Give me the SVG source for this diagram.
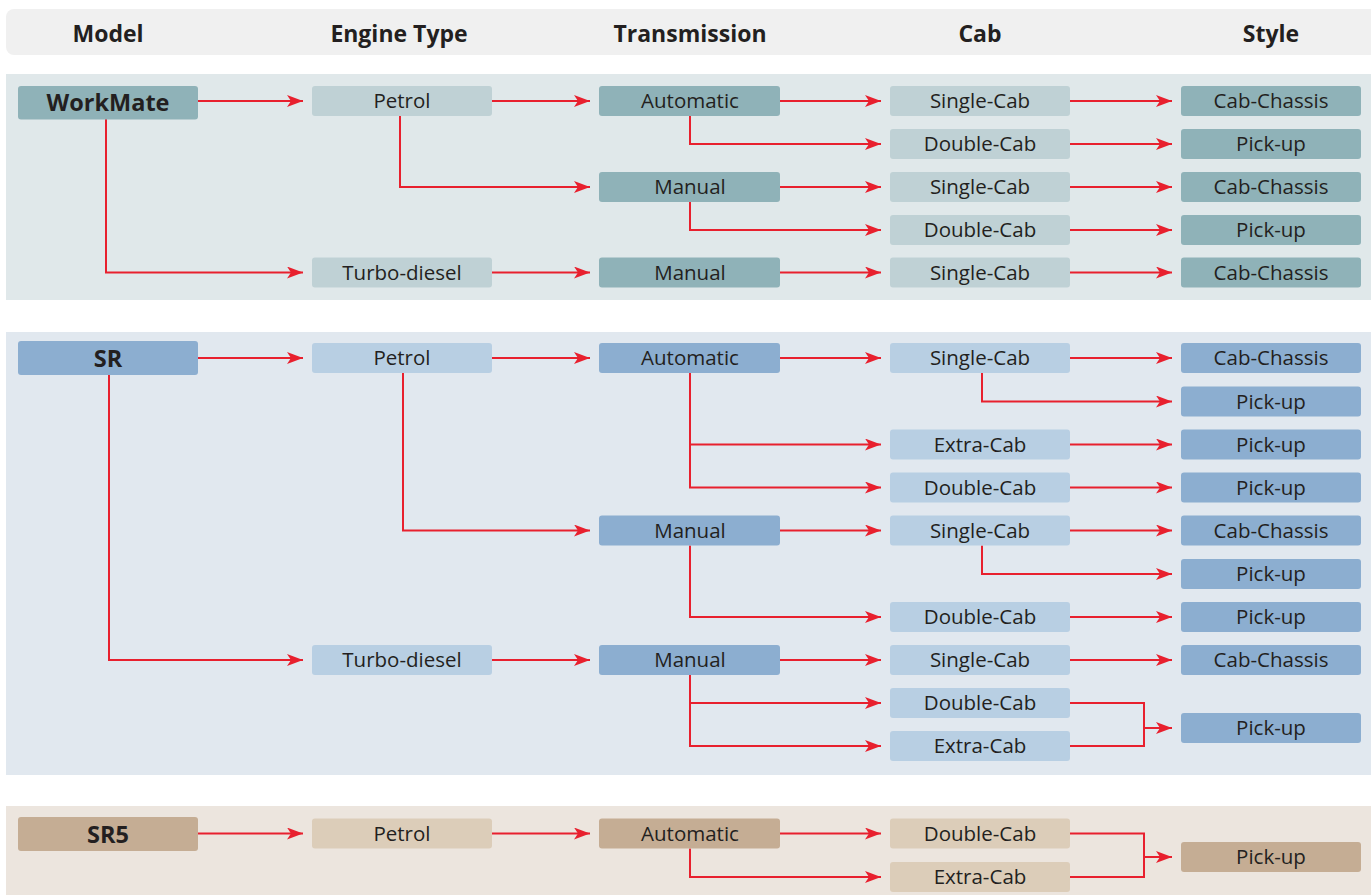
<svg xmlns="http://www.w3.org/2000/svg" width="1371" height="895" viewBox="0 0 1371 895">
<defs>
<marker id="ah" markerUnits="userSpaceOnUse" markerWidth="18" markerHeight="14" refX="16" refY="6" orient="auto">
<path d="M0,0 L16,6 L0,12 L4,6 z" fill="#e8202e"/>
</marker>
<style>
.hd{font-family:"Open Sans","Liberation Sans",sans-serif;font-weight:700;font-size:23px;fill:#231f20;text-anchor:middle}
.t{font-family:"Open Sans","Liberation Sans",sans-serif;font-size:20.5px;fill:#231f20;text-anchor:middle}
.mt{font-family:"Open Sans","Liberation Sans",sans-serif;font-weight:700;font-size:23.5px;fill:#231f20;text-anchor:middle}
.c path{fill:none;stroke:#e8202e;stroke-width:2;marker-end:url(#ah)}
.c path.n{marker-end:none}
.wd{fill:#8fb2b8}.wl{fill:#bfd1d5}
.sd{fill:#8caed0}.sl{fill:#b8cfe3}
.fd{fill:#c5ad94}.fl{fill:#dccdb9}
</style>
</defs>
<rect x="6" y="9" width="1375" height="46" rx="8" fill="#f0f0f0"/>
<g id="header">
<text class="hd" x="108" y="42">Model</text>
<text class="hd" x="399" y="42">Engine Type</text>
<text class="hd" x="690" y="42">Transmission</text>
<text class="hd" x="980" y="42">Cab</text>
<text class="hd" x="1271" y="42">Style</text>
</g>
<rect x="6" y="74" width="1375" height="226" fill="#e0e8ea"/>
<rect x="6" y="332" width="1375" height="443" fill="#e1e8ef"/>
<rect x="6" y="806" width="1375" height="95" fill="#ece5de"/>

<g id="connectors" class="c">
<path d="M198,101 H303"/>
<path d="M492,101 H590"/>
<path d="M780,101 H881"/>
<path d="M1070,101 H1172"/>
<path d="M690,116 V144 H881"/>
<path d="M1070,144 H1172"/>
<path d="M400,116 V187 H590"/>
<path d="M780,187 H881"/>
<path d="M1070,187 H1172"/>
<path d="M690,202 V230 H881"/>
<path d="M1070,230 H1172"/>
<path d="M106,119 V272.5 H303"/>
<path d="M492,272.5 H590"/>
<path d="M780,272.5 H881"/>
<path d="M1070,272.5 H1172"/>
<path d="M198,358 H303"/>
<path d="M492,358 H590"/>
<path d="M780,358 H881"/>
<path d="M1070,358 H1172"/>
<path d="M982,373 V401.5 H1172"/>
<path d="M690,373 V487.5 H881"/>
<path d="M690,444.5 H881"/>
<path d="M1070,444.5 H1172"/>
<path d="M1070,487.5 H1172"/>
<path d="M403,373 V530.5 H590"/>
<path d="M780,530.5 H881"/>
<path d="M1070,530.5 H1172"/>
<path d="M982,545.5 V574 H1172"/>
<path d="M690,545.5 V617 H881"/>
<path d="M1070,617 H1172"/>
<path d="M109,375 V660 H303"/>
<path d="M492,660 H590"/>
<path d="M780,660 H881"/>
<path d="M1070,660 H1172"/>
<path d="M690,675 V746 H881"/>
<path d="M690,703 H881"/>
<path class="n" d="M1070,703 H1144 V746 H1070"/>
<path d="M1144,728 H1172"/>
<path d="M198,833.5 H303"/>
<path d="M492,833.5 H590"/>
<path d="M780,833.5 H881"/>
<path d="M690,848.5 V877 H881"/>
<path class="n" d="M1070,833.5 H1144 V877 H1070"/>
<path d="M1144,857 H1172"/>
</g>

<g id="wm-model"><rect class="wd" x="18" y="86" width="180" height="33.5" rx="3"/><text class="mt" x="108" y="111">WorkMate</text></g>
<g id="wm-petrol"><rect class="wl" x="312" y="86" width="180" height="30" rx="3"/><text class="t" x="402" y="108">Petrol</text></g>
<g id="wm-auto"><rect class="wd" x="599" y="86" width="181" height="30" rx="3"/><text class="t" x="690" y="108">Automatic</text></g>
<g id="wm-c1"><rect class="wl" x="890" y="86" width="180" height="30" rx="3"/><text class="t" x="980" y="108">Single-Cab</text></g>
<g id="wm-s1"><rect class="wd" x="1181" y="86" width="180" height="30" rx="3"/><text class="t" x="1271" y="108">Cab-Chassis</text></g>
<g id="wm-c2"><rect class="wl" x="890" y="129" width="180" height="30" rx="3"/><text class="t" x="980" y="151">Double-Cab</text></g>
<g id="wm-s2"><rect class="wd" x="1181" y="129" width="180" height="30" rx="3"/><text class="t" x="1271" y="151">Pick-up</text></g>
<g id="wm-man1"><rect class="wd" x="599" y="172" width="181" height="30" rx="3"/><text class="t" x="690" y="194">Manual</text></g>
<g id="wm-c3"><rect class="wl" x="890" y="172" width="180" height="30" rx="3"/><text class="t" x="980" y="194">Single-Cab</text></g>
<g id="wm-s3"><rect class="wd" x="1181" y="172" width="180" height="30" rx="3"/><text class="t" x="1271" y="194">Cab-Chassis</text></g>
<g id="wm-c4"><rect class="wl" x="890" y="215" width="180" height="30" rx="3"/><text class="t" x="980" y="237">Double-Cab</text></g>
<g id="wm-s4"><rect class="wd" x="1181" y="215" width="180" height="30" rx="3"/><text class="t" x="1271" y="237">Pick-up</text></g>
<g id="wm-turbo"><rect class="wl" x="312" y="257.5" width="180" height="30" rx="3"/><text class="t" x="402" y="279.5">Turbo-diesel</text></g>
<g id="wm-man2"><rect class="wd" x="599" y="257.5" width="181" height="30" rx="3"/><text class="t" x="690" y="279.5">Manual</text></g>
<g id="wm-c5"><rect class="wl" x="890" y="257.5" width="180" height="30" rx="3"/><text class="t" x="980" y="279.5">Single-Cab</text></g>
<g id="wm-s5"><rect class="wd" x="1181" y="257.5" width="180" height="30" rx="3"/><text class="t" x="1271" y="279.5">Cab-Chassis</text></g>

<g id="sr-model"><rect class="sd" x="18" y="341" width="180" height="34" rx="3"/><text class="mt" x="108" y="366.5">SR</text></g>
<g id="sr-petrol"><rect class="sl" x="312" y="343" width="180" height="30" rx="3"/><text class="t" x="402" y="365">Petrol</text></g>
<g id="sr-auto"><rect class="sd" x="599" y="343" width="181" height="30" rx="3"/><text class="t" x="690" y="365">Automatic</text></g>
<g id="sr-c1"><rect class="sl" x="890" y="343" width="180" height="30" rx="3"/><text class="t" x="980" y="365">Single-Cab</text></g>
<g id="sr-s1"><rect class="sd" x="1181" y="343" width="180" height="30" rx="3"/><text class="t" x="1271" y="365">Cab-Chassis</text></g>
<g id="sr-s2"><rect class="sd" x="1181" y="386.5" width="180" height="30" rx="3"/><text class="t" x="1271" y="408.5">Pick-up</text></g>
<g id="sr-c3"><rect class="sl" x="890" y="429.5" width="180" height="30" rx="3"/><text class="t" x="980" y="451.5">Extra-Cab</text></g>
<g id="sr-s3"><rect class="sd" x="1181" y="429.5" width="180" height="30" rx="3"/><text class="t" x="1271" y="451.5">Pick-up</text></g>
<g id="sr-c4"><rect class="sl" x="890" y="472.5" width="180" height="30" rx="3"/><text class="t" x="980" y="494.5">Double-Cab</text></g>
<g id="sr-s4"><rect class="sd" x="1181" y="472.5" width="180" height="30" rx="3"/><text class="t" x="1271" y="494.5">Pick-up</text></g>
<g id="sr-man1"><rect class="sd" x="599" y="515.5" width="181" height="30" rx="3"/><text class="t" x="690" y="537.5">Manual</text></g>
<g id="sr-c5"><rect class="sl" x="890" y="515.5" width="180" height="30" rx="3"/><text class="t" x="980" y="537.5">Single-Cab</text></g>
<g id="sr-s5"><rect class="sd" x="1181" y="515.5" width="180" height="30" rx="3"/><text class="t" x="1271" y="537.5">Cab-Chassis</text></g>
<g id="sr-s6"><rect class="sd" x="1181" y="559" width="180" height="30" rx="3"/><text class="t" x="1271" y="581">Pick-up</text></g>
<g id="sr-c7"><rect class="sl" x="890" y="602" width="180" height="30" rx="3"/><text class="t" x="980" y="624">Double-Cab</text></g>
<g id="sr-s7"><rect class="sd" x="1181" y="602" width="180" height="30" rx="3"/><text class="t" x="1271" y="624">Pick-up</text></g>
<g id="sr-turbo"><rect class="sl" x="312" y="645" width="180" height="30" rx="3"/><text class="t" x="402" y="667">Turbo-diesel</text></g>
<g id="sr-man2"><rect class="sd" x="599" y="645" width="181" height="30" rx="3"/><text class="t" x="690" y="667">Manual</text></g>
<g id="sr-c8"><rect class="sl" x="890" y="645" width="180" height="30" rx="3"/><text class="t" x="980" y="667">Single-Cab</text></g>
<g id="sr-s8"><rect class="sd" x="1181" y="645" width="180" height="30" rx="3"/><text class="t" x="1271" y="667">Cab-Chassis</text></g>
<g id="sr-c9"><rect class="sl" x="890" y="688" width="180" height="30" rx="3"/><text class="t" x="980" y="710">Double-Cab</text></g>
<g id="sr-c10"><rect class="sl" x="890" y="731" width="180" height="30" rx="3"/><text class="t" x="980" y="753">Extra-Cab</text></g>
<g id="sr-s9"><rect class="sd" x="1181" y="713" width="180" height="30" rx="3"/><text class="t" x="1271" y="735">Pick-up</text></g>

<g id="sr5-model"><rect class="fd" x="18" y="817" width="180" height="34" rx="3"/><text class="mt" x="108" y="842.5">SR5</text></g>
<g id="sr5-petrol"><rect class="fl" x="312" y="818.5" width="180" height="30" rx="3"/><text class="t" x="402" y="840.5">Petrol</text></g>
<g id="sr5-auto"><rect class="fd" x="599" y="818.5" width="181" height="30" rx="3"/><text class="t" x="690" y="840.5">Automatic</text></g>
<g id="sr5-c1"><rect class="fl" x="890" y="818.5" width="180" height="30" rx="3"/><text class="t" x="980" y="840.5">Double-Cab</text></g>
<g id="sr5-c2"><rect class="fl" x="890" y="862" width="180" height="30" rx="3"/><text class="t" x="980" y="884">Extra-Cab</text></g>
<g id="sr5-s1"><rect class="fd" x="1181" y="842" width="180" height="30" rx="3"/><text class="t" x="1271" y="864">Pick-up</text></g>
</svg>
